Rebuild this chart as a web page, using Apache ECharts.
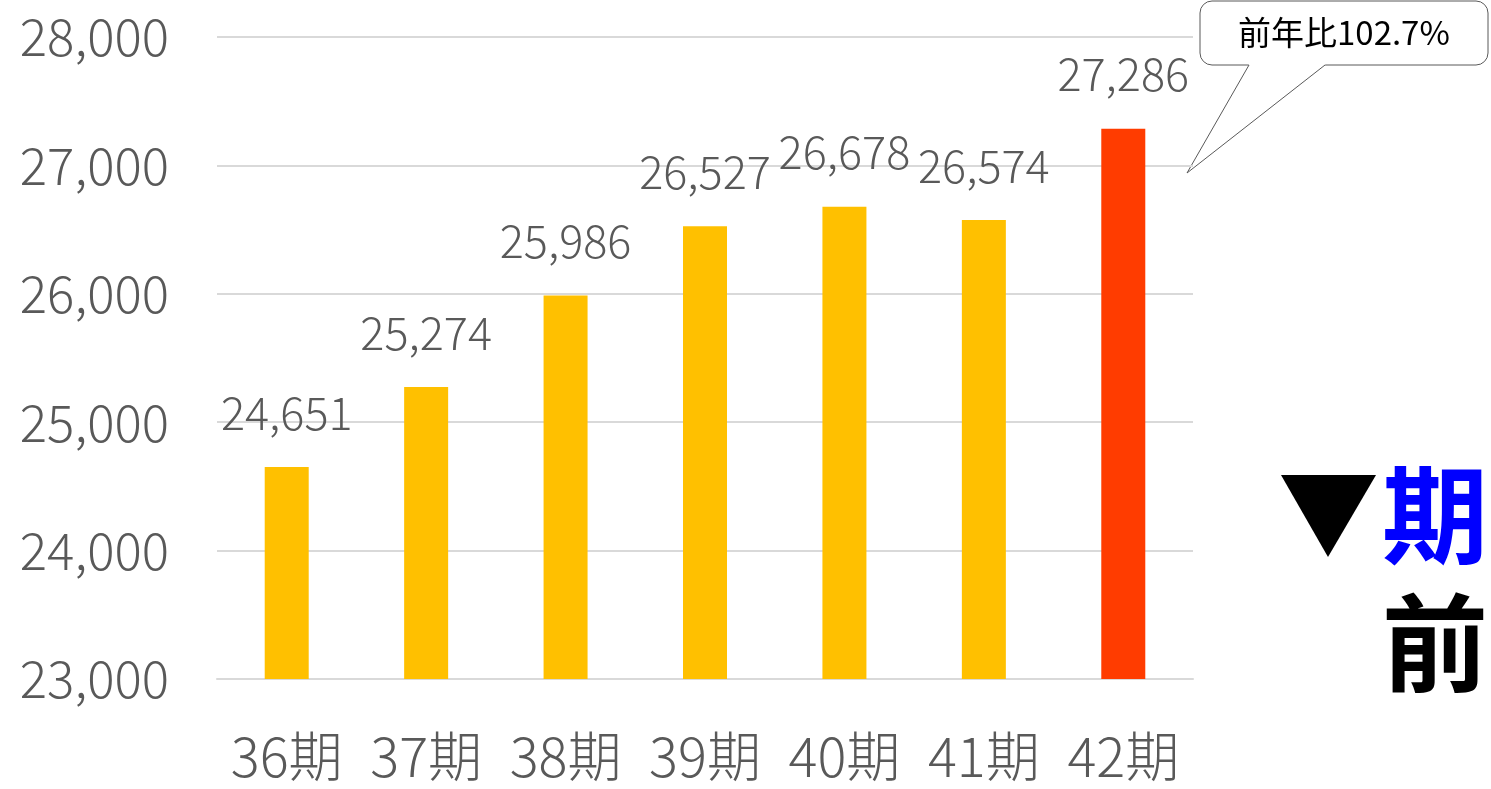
<!DOCTYPE html>
<html><head><meta charset="utf-8">
<script src="https://cdn.jsdelivr.net/npm/echarts@6/dist/echarts.min.js"></script>
<style>html,body{margin:0;padding:0;background:#fff}#c{width:1491px;height:789px}</style>
</head><body><div id="c"></div>
<script>
const categories = ['36期','37期','38期','39期','40期','41期','42期'];
const values = [24651, 25274, 25986, 26527, 26678, 26574, 27286];
const barColors = ['#FFC000','#FFC000','#FFC000','#FFC000','#FFC000','#FFC000','#FF3C00'];
const yTicks = {min: 23000, max: 28000, interval: 1000};
const calloutText = '前年比102.7%';

const FONT = '"Noto Sans CJK JP", "Noto Sans", sans-serif';
const chart = echarts.init(document.getElementById('c'));
chart.setOption({
  animation: false,
  grid: {left: 217, right: 298, top: 37, bottom: 110, containLabel: false},
  xAxis: {
    type: 'category', data: categories,
    axisLine: {show: true, lineStyle: {color: '#D9D9D9', width: 2}},
    axisTick: {show: false},
    axisLabel: {color: '#595959', fontSize: 54, fontWeight: 300, fontFamily: FONT, margin: 50,
      interval: 0, hideOverlap: false}
  },
  yAxis: {
    type: 'value', min: yTicks.min, max: yTicks.max, interval: yTicks.interval,
    axisLine: {show: false}, axisTick: {show: false},
    splitLine: {lineStyle: {color: '#D9D9D9', width: 2}},
    axisLabel: {color: '#595959', fontSize: 51, fontWeight: 300, fontFamily: FONT, margin: 48,
      formatter: v => v.toLocaleString('en-US')}
  },
  series: [{
    type: 'bar', barWidth: 44,
    data: values.map((v, i) => ({value: v, itemStyle: {color: barColors[i]}})),
    label: {show: true, position: 'top', distance: 32, color: '#595959', fontWeight: 300,
      fontSize: 45, fontFamily: FONT, formatter: p => p.value.toLocaleString('en-US')}
  }],
  graphic: [
    {type: 'rect', shape: {x: 1200, y: 1, width: 288, height: 64, r: 12},
      style: {fill: '#fff', stroke: '#595959', lineWidth: 1}},
    {type: 'polygon', shape: {points: [[1248,62],[1326,62],[1325,65],[1187,173],[1249,65]]},
      style: {fill: '#fff', stroke: null}},
    {type: 'polyline', shape: {points: [[1249,65],[1187,173],[1325,65]]},
      style: {fill: null, stroke: '#595959', lineWidth: 1}},
    {type: 'text', left: 1238, top: 16, style: {text: calloutText, fill: '#000', font: '33px ' + FONT}},
    {type: 'polygon', shape: {points: [[1281,475],[1376,475],[1328,557]]},
      style: {fill: '#000'}},
    {type: 'text', left: 1382, top: 462, style: {text: '期', fill: '#0000FF', font: 'bold 106px ' + FONT}},
    {type: 'text', left: 1382, top: 590, style: {text: '前', fill: '#000', font: 'bold 106px ' + FONT}}
  ]
});
</script></body></html>
